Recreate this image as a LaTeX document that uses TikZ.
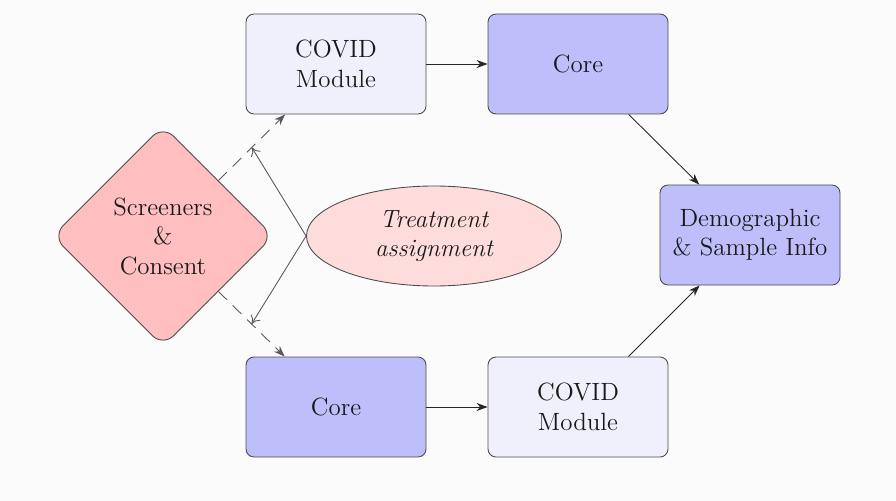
\documentclass[tikz,border=0pt]{standalone}
\usetikzlibrary{shapes.geometric,arrows.meta}
\definecolor{lightbox}{RGB}{240,240,252}
\definecolor{corebox}{RGB}{190,190,250}
\definecolor{pinkdia}{RGB}{255,190,192}
\definecolor{pinkell}{RGB}{255,220,220}
\definecolor{bgc}{RGB}{251,251,251}
\begin{document}
\begin{tikzpicture}[
  every node/.style={font=\fontsize{14.2}{16.8}\selectfont, align=center, text=black!90},
  boxbase/.style={draw=black!70, rounded corners=0.16cm, minimum width=3.6cm, minimum height=2cm, line width=0.5pt},
  lightstep/.style={boxbase, fill=lightbox},
  corestep/.style={boxbase, fill=corebox},
  arr/.style={-{Stealth[length=2.2mm,width=1.6mm]}, black!85, line width=0.5pt},
  dasharr/.style={arr, dashed, dash pattern=on 2.4mm off 1.6mm, black!65},
  thinarr/.style={-{To[length=1.6mm,width=2.2mm]}, black!65, line width=0.5pt}
]
\fill[bgc] (0,0) rectangle (17.92,-10.02);
\useasboundingbox (0,0) rectangle (17.92,-10.02);

\node[lightstep] (cov1) at (6.72,-1.28) {COVID\\Module};
\node[corestep] (core1) at (11.56,-1.28) {Core};
\node[corestep] (demo) at (15.0,-4.70) {Demographic\\\& Sample Info};
\node[corestep] (core2) at (6.72,-8.14) {Core};
\node[lightstep] (cov2) at (11.56,-8.14) {COVID\\Module};
\node[draw=black!70, fill=pinkdia, diamond, aspect=1, minimum size=4.42cm, inner sep=0pt, rounded corners=0.3cm, line width=0.5pt] (scr) at (3.26,-4.72) {Screeners\\\&\\Consent};
\node[draw=black!70, fill=pinkell, ellipse, minimum width=5.1cm, minimum height=2.0cm, line width=0.5pt, font=\fontsize{14.2}{16.8}\selectfont\itshape] (ell) at (8.68,-4.72) {Treatment\\assignment};

\draw[dasharr] (scr.north east) -- coordinate[pos=0.5] (m1) (cov1);
\draw[dasharr] (scr.south east) -- coordinate[pos=0.5] (m2) (core2);
\draw[thinarr] (ell.west) -- (m1);
\draw[thinarr] (ell.west) -- (m2);

\draw[arr] (cov1) -- (core1);
\draw[arr] (core2) -- (cov2);
\draw[arr] (core1) -- (demo);
\draw[arr] (cov2) -- (demo);
\end{tikzpicture}
\end{document}
